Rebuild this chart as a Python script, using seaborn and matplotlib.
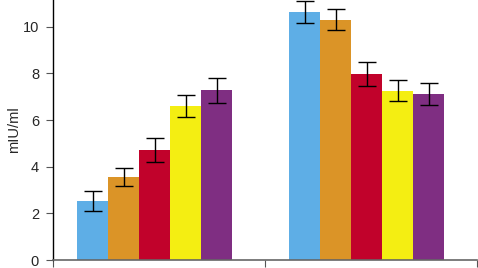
import pandas as pd
import numpy as np
import matplotlib.pyplot as plt
import seaborn as sns

# Data
groups = ['A', 'B']
series = ['s1', 's2', 's3', 's4', 's5']
values_a = [2.53, 3.57, 4.72, 6.61, 7.27]
values_b = [10.63, 10.31, 7.98, 7.25, 7.12]
errors_a = [0.45, 0.38, 0.52, 0.48, 0.53]
errors_b = [0.48, 0.45, 0.5, 0.45, 0.48]
colors = ['#5eaee6', '#db9427', '#c1022b', '#f4ee12', '#7f2e82']

sns.set_style('white')
plt.rcParams['font.family'] = ['Liberation Sans Narrow', 'Liberation Sans', 'DejaVu Sans']

df = pd.DataFrame({
    'group': [g for g in groups for _ in series],
    'series': series * len(groups),
    'value': values_a + values_b,
    'err': errors_a + errors_b,
})

fig = plt.figure(figsize=(4.78, 2.68), dpi=100)
ax = fig.add_axes([53 / 478, 8 / 268, 424 / 478, 260 / 268])

sns.barplot(data=df, x='group', y='value', hue='series', palette=colors,
            width=0.73, gap=0, errorbar=None, legend=False, ax=ax,
            saturation=1, linewidth=0)

# error bars at the centres of the drawn bars
for bar_group, s in zip(ax.containers, series):
    sub = df[df['series'] == s]
    xs = [p.get_x() + p.get_width() / 2 for p in bar_group.patches]
    ax.errorbar(xs, sub['value'], yerr=sub['err'], fmt='none',
                ecolor='black', elinewidth=1, capsize=6.5, capthick=1)

ax.set_xlim(-0.48, 1.52)
ax.set_ylim(0, 11.15)
ax.set_xticks([-0.48, 0.52, 1.52])
ax.set_xticklabels([])
ax.set_yticks([0, 2, 4, 6, 8, 10])
ax.set_xlabel('')
ax.set_ylabel('mIU/ml', fontsize=10.5, labelpad=1)
ax.tick_params(axis='y', left=True, length=5, width=0.8, color='#555555',
               labelsize=10.5, pad=5)
ax.tick_params(axis='x', bottom=True, length=5, width=0.8, color='#555555')
sns.despine(ax=ax, top=True, right=True)
ax.spines['left'].set_color('black')
ax.spines['left'].set_linewidth(1)
ax.spines['bottom'].set_color('#666666')
ax.spines['bottom'].set_linewidth(1.2)

plt.savefig('out.png', dpi=100)
